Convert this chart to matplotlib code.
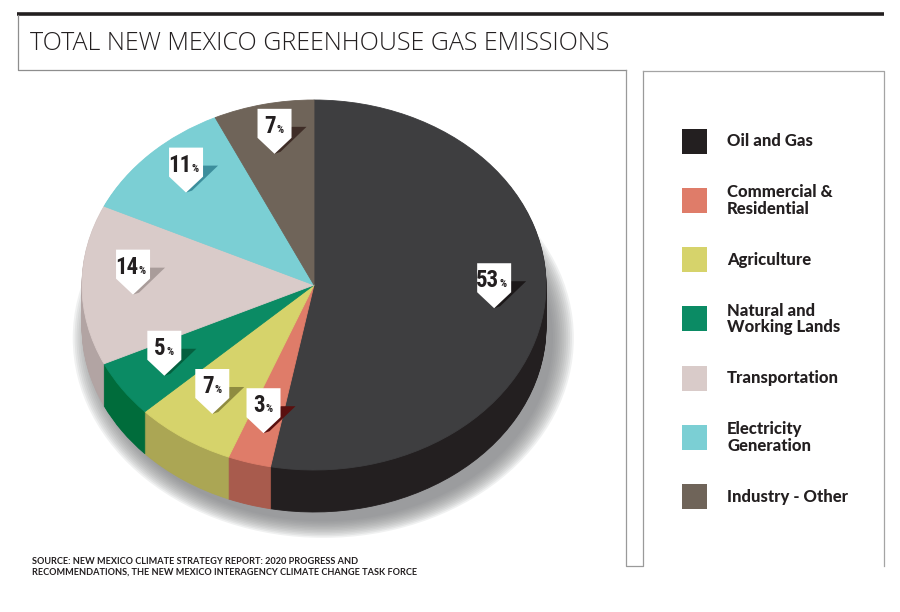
"""Total New Mexico greenhouse gas emissions - 3D style pie."""
import matplotlib
matplotlib.use("Agg")
import matplotlib.pyplot as plt
from matplotlib import font_manager
from matplotlib.patches import Ellipse, Polygon, Rectangle
import numpy as np

# data
categories = ["Oil and Gas", "Commercial &\nResidential", "Agriculture",
              "Natural and\nWorking Lands", "Transportation",
              "Electricity\nGeneration", "Industry - Other"]
shares = [53, 3, 7, 5, 14, 11, 7]

top_colors = ["#3e3e40", "#df7c69", "#d6d36b", "#0b8b64",
              "#d9cbc9", "#7bcfd4", "#6f6459"]
side_colors = ["#231f20", "#a85b4d", "#aba654", "#006c3b",
               "#b2a4a3", "#5aa6aa", "#554b42"]
legend_colors = ["#231f20", "#df7c69", "#d6d36b", "#0b8b64",
                 "#d9cbc9", "#7bcfd4", "#6f6459"]
tag_shadows = ["#1c1819", "#5a100f", "#8f8b40", "#05603f",
               "#a99c9a", "#3c8e9c", "#3f2d27"]

title = "TOTAL NEW MEXICO GREENHOUSE GAS EMISSIONS"
source = ("SOURCE: NEW MEXICO CLIMATE STRATEGY REPORT: 2020 PROGRESS AND\n"
          "RECOMMENDATIONS, THE NEW MEXICO INTERAGENCY CLIMATE CHANGE TASK FORCE")

# fonts: pick what is installed
fonts = font_manager.fontManager.ttflist
names = {f.name for f in fonts}
num_kw = dict(family="Roboto", fontweight="bold")
num_size = 16
for n in ["Liberation Sans Narrow", "Roboto Condensed"]:
    if n in names:
        num_kw = dict(family=n, fontweight="bold")
        num_size = 16.5
        break
else:
    if any(f.name == "DejaVu Sans" and f.stretch == "condensed" for f in fonts):
        num_kw = dict(family="DejaVu Sans", fontweight="bold",
                      fontstretch="condensed")
        num_size = 15.5


def light_family():
    for fam in ["Open Sans", "Lato", "Roboto", "Noto Sans"]:
        for f in fonts:
            w = f.weight if isinstance(f.weight, int) else 400
            if f.name == fam and w <= 300 and f.style == "normal":
                return fam
    return "Open Sans"


title_font = light_family()

# geometry (pixels, y down)
W, H = 900, 612
CX, CY, RX, RY = 314, 285, 232, 185
DEPTH = 42
R_TAG, LIFT = 0.78, 0.11

fig = plt.figure(figsize=(W / 100, H / 100), dpi=100)
fig.patch.set_facecolor("white")

# pie axes in radius units (ellipse via unequal scaling)
pax = fig.add_axes([0, 0, 1, 1])


def fix_edges(wedges):
    for w in wedges:
        w.set_edgecolor(w.get_facecolor())
        w.set_linewidth(0.6)


# soft shadow
d = DEPTH / RY
for s in np.linspace(1.08, 0.99, 12):
    pax.add_patch(Ellipse((0.04, -d - 0.06), 2 * s, 2 * s,
                          color="#7f8083", alpha=0.11, lw=0))

# side (stacked layers)
for k in range(DEPTH, 0, -1):
    wedges, _ = pax.pie(shares, colors=side_colors, startangle=90,
                        counterclock=False, center=(0, -k / RY), radius=1)
    fix_edges(wedges)

# top surface
wedges, _ = pax.pie(shares, colors=top_colors, startangle=90,
                    counterclock=False, center=(0, 0), radius=1)
fix_edges(wedges)

pax.set_aspect("auto")
pax.set_xlim(-CX / RX, (W - CX) / RX)
pax.set_ylim((CY - H) / RY, CY / RY)
pax.axis("off")

# overlay in pixels
ax = fig.add_axes([0, 0, 1, 1], facecolor="none")
ax.set_xlim(0, W)
ax.set_ylim(H, 0)
ax.axis("off")

# frames
ax.plot([17, 884], [13.5, 13.5], color="#231f20", lw=2.6,
        solid_capstyle="butt")
ax.plot([17.5, 17.5, 626], [15, 70, 70], color="#8e8e8e", lw=0.9)
ax.plot([626, 626, 643, 643], [70, 566, 566, 71], color="#9a9a9a", lw=0.9)
ax.plot([643, 884, 884], [71, 71, 566], color="#a4a4a4", lw=0.9)

ax.text(30, 43, title, ha="left", va="center", fontsize=18,
        family=title_font, fontweight="light", color="#231f20")
ax.text(32, 567, source, ha="left", va="center", fontsize=6.6,
        family="Lato", fontweight="bold", color="#231f20", linespacing=1.25)

# tags
total = float(sum(shares))
cum = np.cumsum([0] + shares[:-1])
for i, v in enumerate(shares):
    mid = np.deg2rad(90 - 360 * (cum[i] + v / 2) / total)
    tx = CX + RX * R_TAG * np.cos(mid)
    ty = CY - RY * (R_TAG * np.sin(mid) + LIFT)
    ax.add_patch(Polygon([(tx + 17, ty + 3), (tx + 32, ty + 3),
                          (tx + 6, ty + 28), (tx, ty + 30)],
                         closed=True, color=tag_shadows[i], lw=0))
    ax.add_patch(Polygon([(tx - 17, ty - 15), (tx + 17, ty - 15),
                          (tx + 17, ty + 14), (tx, ty + 30),
                          (tx - 17, ty + 14)],
                         closed=True, color="white", lw=0))
    lab = str(v)
    off = 5 if len(lab) > 1 else 1.5
    ax.text(tx + off, ty + 9, lab, ha="right", va="baseline",
            fontsize=num_size, color="#231f20", **num_kw)
    ax.text(tx + off + 0.5, ty + 9, "%", ha="left", va="baseline",
            fontsize=8, color="#231f20", **num_kw)

# legend
for i, (cat, c) in enumerate(zip(categories, legend_colors)):
    y = 141 + i * 59.3
    ax.add_patch(Rectangle((682, y - 12.5), 25, 25, color=c, lw=0))
    ax.text(727, y, cat, ha="left", va="center", fontsize=12,
            family="Lato", fontweight="black", color="#231f20",
            linespacing=1.05)

fig.savefig("out.png", dpi=100, facecolor="white")
